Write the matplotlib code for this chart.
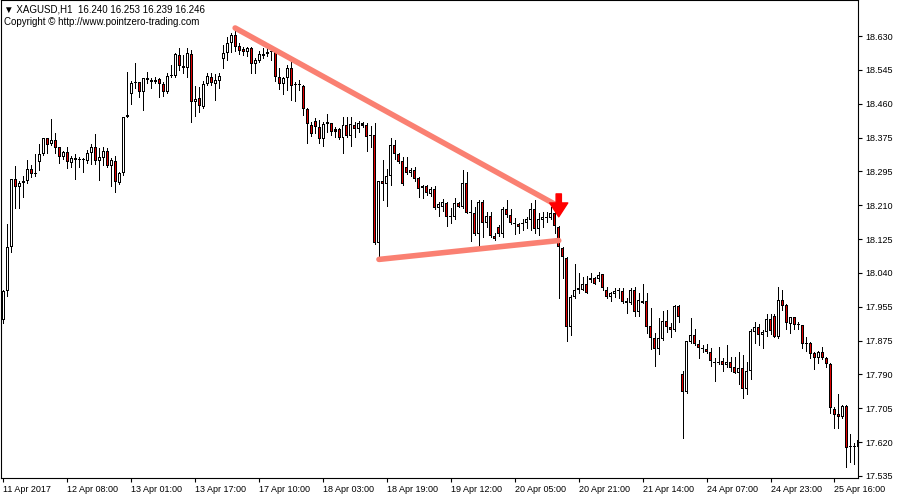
import numpy as np
import matplotlib
matplotlib.use("Agg")
import matplotlib.pyplot as plt

# XAGUSD H1 candles (open, high, low, close)
opens = [17.923, 17.996, 18.104, 18.274, 18.253, 18.264, 18.269, 18.298, 18.287, 18.317,
         18.336, 18.375, 18.361, 18.370, 18.354, 18.328, 18.341, 18.313, 18.326, 18.323,
         18.321, 18.320, 18.338, 18.354, 18.320, 18.326, 18.343, 18.307, 18.320, 18.263,
         18.288, 18.433, 18.486, 18.512, 18.515, 18.490, 18.525, 18.521, 18.515, 18.522,
         18.510, 18.490, 18.530, 18.530, 18.583, 18.556, 18.550, 18.584, 18.465, 18.475,
         18.454, 18.510, 18.529, 18.510, 18.519, 18.572, 18.587, 18.612, 18.633, 18.605,
         18.598, 18.589, 18.599, 18.560, 18.569, 18.579, 18.584, 18.589, 18.590, 18.529,
         18.510, 18.525, 18.550, 18.510, 18.510, 18.506, 18.448, 18.409, 18.419, 18.403,
         18.373, 18.410, 18.413, 18.392, 18.398, 18.375, 18.409, 18.382, 18.409, 18.399,
         18.413, 18.409, 18.381, 18.384, 18.114, 18.269, 18.261, 18.282, 18.359, 18.336,
         18.319, 18.305, 18.290, 18.297, 18.276, 18.251, 18.257, 18.236, 18.249, 18.201,
         18.205, 18.215, 18.179, 18.179, 18.214, 18.205, 18.263, 18.192, 18.189, 18.137,
         18.218, 18.165, 18.183, 18.132, 18.155, 18.137, 18.199, 18.185, 18.162, 18.162,
         18.162, 18.165, 18.172, 18.199, 18.149, 18.172, 18.178, 18.176, 18.189, 18.154,
         18.102, 18.077, 17.906, 17.980, 17.999, 17.999, 18.013, 18.027, 18.027, 18.025,
         18.037, 17.999, 17.980, 17.987, 17.995, 17.995, 17.971, 17.965, 17.999, 17.944,
         17.970, 17.970, 17.908, 17.878, 17.851, 17.875, 17.921, 17.906, 17.898, 17.958,
         17.790, 17.745, 17.869, 17.886, 17.863, 17.854, 17.851, 17.843, 17.819, 17.817,
         17.821, 17.810, 17.818, 17.806, 17.792, 17.803, 17.751, 17.796, 17.894, 17.906,
         17.886, 17.893, 17.925, 17.933, 17.882, 17.972, 17.961, 17.913, 17.930, 17.912,
         17.911, 17.867, 17.867, 17.842, 17.828, 17.844, 17.828, 17.813, 17.701, 17.689,
         17.681, 17.709, 17.606, 17.608, 17.608]
highs = [17.998, 18.162, 18.274, 18.307, 18.270, 18.282, 18.321, 18.309, 18.336, 18.361,
         18.376, 18.377, 18.423, 18.389, 18.354, 18.345, 18.353, 18.331, 18.336, 18.330,
         18.327, 18.346, 18.361, 18.386, 18.351, 18.354, 18.351, 18.326, 18.331, 18.292,
         18.429, 18.540, 18.519, 18.562, 18.516, 18.525, 18.540, 18.525, 18.529, 18.526,
         18.516, 18.537, 18.558, 18.587, 18.599, 18.583, 18.599, 18.595, 18.506, 18.504,
         18.519, 18.537, 18.537, 18.535, 18.537, 18.608, 18.627, 18.638, 18.650, 18.613,
         18.602, 18.603, 18.602, 18.576, 18.593, 18.599, 18.599, 18.599, 18.595, 18.550,
         18.529, 18.558, 18.566, 18.516, 18.521, 18.508, 18.450, 18.417, 18.425, 18.421,
         18.417, 18.435, 18.414, 18.404, 18.400, 18.429, 18.429, 18.429, 18.417, 18.419,
         18.417, 18.414, 18.407, 18.413, 18.269, 18.321, 18.298, 18.375, 18.371, 18.338,
         18.330, 18.330, 18.301, 18.305, 18.278, 18.259, 18.259, 18.255, 18.257, 18.218,
         18.224, 18.218, 18.201, 18.226, 18.218, 18.297, 18.292, 18.222, 18.205, 18.222,
         18.222, 18.193, 18.193, 18.139, 18.160, 18.205, 18.222, 18.199, 18.176, 18.164,
         18.174, 18.180, 18.214, 18.222, 18.189, 18.193, 18.193, 18.205, 18.214, 18.157,
         18.106, 18.079, 17.985, 18.063, 18.039, 18.029, 18.033, 18.041, 18.031, 18.043,
         18.037, 18.006, 17.994, 18.002, 18.002, 18.002, 17.977, 18.002, 18.006, 17.991,
         18.014, 17.990, 17.952, 17.890, 17.927, 17.946, 17.948, 17.916, 17.960, 17.960,
         17.797, 17.871, 17.927, 17.901, 17.873, 17.861, 17.863, 17.853, 17.828, 17.857,
         17.828, 17.861, 17.832, 17.830, 17.843, 17.836, 17.819, 17.900, 17.919, 17.913,
         17.898, 17.937, 17.937, 17.937, 18.005, 17.999, 17.963, 17.931, 17.931, 17.919,
         17.912, 17.882, 17.869, 17.844, 17.847, 17.857, 17.830, 17.815, 17.707, 17.739,
         17.712, 17.712, 17.639, 17.616, 17.635]
lows = [17.916, 17.983, 18.093, 18.202, 18.203, 18.230, 18.265, 18.278, 18.282, 18.297,
        18.334, 18.338, 18.358, 18.338, 18.315, 18.323, 18.301, 18.305, 18.275, 18.305,
        18.292, 18.313, 18.311, 18.311, 18.272, 18.309, 18.305, 18.257, 18.242, 18.262,
        18.284, 18.428, 18.461, 18.500, 18.477, 18.446, 18.512, 18.500, 18.514, 18.477,
        18.481, 18.487, 18.529, 18.529, 18.545, 18.537, 18.529, 18.415, 18.431, 18.442,
        18.452, 18.508, 18.508, 18.471, 18.500, 18.551, 18.570, 18.591, 18.593, 18.584,
        18.582, 18.579, 18.537, 18.537, 18.566, 18.575, 18.580, 18.570, 18.519, 18.497,
        18.486, 18.496, 18.471, 18.468, 18.496, 18.433, 18.364, 18.381, 18.389, 18.364,
        18.357, 18.390, 18.384, 18.379, 18.373, 18.340, 18.379, 18.357, 18.379, 18.392,
        18.404, 18.345, 18.354, 18.112, 18.076, 18.222, 18.207, 18.259, 18.323, 18.313,
        18.259, 18.287, 18.282, 18.269, 18.230, 18.226, 18.234, 18.232, 18.199, 18.182,
        18.195, 18.157, 18.164, 18.174, 18.204, 18.201, 18.189, 18.121, 18.135, 18.102,
        18.129, 18.155, 18.129, 18.122, 18.132, 18.131, 18.180, 18.162, 18.137, 18.140,
        18.147, 18.151, 18.147, 18.139, 18.135, 18.155, 18.167, 18.174, 18.139, 17.977,
        18.027, 17.872, 17.885, 17.977, 17.991, 17.998, 17.990, 18.018, 18.013, 18.021,
        17.999, 17.977, 17.971, 17.981, 17.977, 17.966, 17.940, 17.962, 17.933, 17.933,
        17.965, 17.891, 17.850, 17.809, 17.839, 17.873, 17.894, 17.880, 17.897, 17.919,
        17.630, 17.741, 17.867, 17.861, 17.828, 17.844, 17.840, 17.809, 17.772, 17.814,
        17.797, 17.807, 17.797, 17.791, 17.763, 17.728, 17.738, 17.776, 17.867, 17.861,
        17.853, 17.883, 17.888, 17.880, 17.878, 17.948, 17.900, 17.891, 17.900, 17.900,
        17.853, 17.847, 17.828, 17.801, 17.815, 17.825, 17.807, 17.691, 17.654, 17.654,
        17.679, 17.557, 17.571, 17.565, 17.580]
closes = [17.996, 18.106, 18.274, 18.253, 18.264, 18.269, 18.298, 18.287, 18.289, 18.336,
          18.375, 18.358, 18.371, 18.351, 18.328, 18.341, 18.316, 18.326, 18.321, 18.321,
          18.321, 18.338, 18.354, 18.320, 18.328, 18.343, 18.307, 18.321, 18.267, 18.288,
          18.429, 18.429, 18.514, 18.515, 18.490, 18.525, 18.521, 18.515, 18.520, 18.510,
          18.490, 18.530, 18.532, 18.584, 18.556, 18.550, 18.587, 18.465, 18.472, 18.456,
          18.510, 18.530, 18.512, 18.520, 18.530, 18.587, 18.612, 18.633, 18.603, 18.593,
          18.591, 18.599, 18.560, 18.570, 18.584, 18.584, 18.591, 18.591, 18.527, 18.510,
          18.525, 18.550, 18.506, 18.508, 18.508, 18.448, 18.410, 18.386, 18.403, 18.373,
          18.411, 18.415, 18.392, 18.398, 18.375, 18.409, 18.382, 18.411, 18.399, 18.413,
          18.407, 18.379, 18.384, 18.114, 18.269, 18.261, 18.282, 18.359, 18.336, 18.317,
          18.261, 18.288, 18.297, 18.274, 18.249, 18.257, 18.239, 18.249, 18.201, 18.211,
          18.216, 18.180, 18.180, 18.215, 18.205, 18.263, 18.190, 18.189, 18.137, 18.218,
          18.165, 18.183, 18.132, 18.124, 18.137, 18.199, 18.185, 18.164, 18.165, 18.155,
          18.165, 18.174, 18.199, 18.149, 18.174, 18.180, 18.180, 18.189, 18.157, 18.104,
          18.079, 17.906, 17.981, 17.999, 18.002, 18.014, 17.991, 18.023, 18.014, 18.035,
          18.002, 17.981, 17.990, 17.995, 17.998, 17.969, 17.965, 17.999, 17.944, 17.973,
          17.966, 17.906, 17.878, 17.851, 17.878, 17.921, 17.906, 17.898, 17.958, 17.931,
          17.745, 17.871, 17.886, 17.863, 17.853, 17.850, 17.843, 17.821, 17.815, 17.819,
          17.810, 17.818, 17.803, 17.792, 17.803, 17.751, 17.796, 17.896, 17.906, 17.886,
          17.893, 17.925, 17.897, 17.882, 17.972, 17.959, 17.915, 17.930, 17.911, 17.911,
          17.863, 17.863, 17.839, 17.828, 17.844, 17.828, 17.813, 17.703, 17.687, 17.682,
          17.709, 17.604, 17.609, 17.610, 17.625]

time_labels = ["11 Apr 2017", "12 Apr 08:00", "13 Apr 01:00", "13 Apr 17:00", "17 Apr 10:00",
               "18 Apr 03:00", "18 Apr 19:00", "19 Apr 12:00", "20 Apr 05:00", "20 Apr 21:00",
               "21 Apr 14:00", "24 Apr 07:00", "24 Apr 23:00", "25 Apr 16:00"]
price_labels = ["17.535", "17.620", "17.705", "17.790", "17.875", "17.955", "18.040",
                "18.125", "18.210", "18.295", "18.375", "18.460", "18.545", "18.630"]

# hand drawn objects on the chart: (bar, price)
upper_line_bars = [58, 139]
upper_line_prices = [18.650, 18.206]
lower_line_bars = [94, 139]
lower_line_prices = [18.074, 18.121]
arrow_bar = 139
arrow_top, arrow_tip = 18.237, 18.180

header = "\u25bc XAGUSD,H1  16.240 16.253 16.239 16.246"
copyright_txt = "Copyright \u00a9 http://www.pointzero-trading.com"

o = np.array(opens); h = np.array(highs); l = np.array(lows); c = np.array(closes)
x = np.arange(len(o))
up = c >= o

fig = plt.figure(figsize=(9, 5), dpi=100)
ax = fig.add_axes([1/900, 22/500, 857/900, 478/500])

# wicks
ax.vlines(x, l, h, color='black', linewidth=0.72, antialiased=False, zorder=2)
# body: black outline block (3 px) with 1 px fill in the middle
px = (18.7196 - 17.530) / 478.0
body_lo = np.minimum(o, c)
body_hi = np.maximum(o, c)
ax.bar(x, np.maximum(body_hi - body_lo, px), bottom=body_lo, width=0.75,
       color='black', linewidth=0, antialiased=False, zorder=3)
inner = (body_hi - body_lo) > 2.5 * px
ax.bar(x[inner], (body_hi - body_lo)[inner] - 2 * px, bottom=body_lo[inner] + px, width=0.25,
       color=np.where(up[inner], 'white', '#e00000'), linewidth=0, antialiased=False, zorder=4)

ax.plot(upper_line_bars, upper_line_prices, color='#fa8072', linewidth=4,
        solid_capstyle='round', zorder=5)
ax.plot(lower_line_bars, lower_line_prices, color='#fa8072', linewidth=4,
        solid_capstyle='round', zorder=5)
ax.annotate('', xy=(arrow_bar, arrow_tip), xytext=(arrow_bar, arrow_top),
            arrowprops=dict(arrowstyle='simple,head_length=1.0,head_width=1.3,tail_width=0.38',
                            color='red', mutation_scale=10, shrinkA=0, shrinkB=0), zorder=6)

ax.set_xlim(-0.6, 213.9)
ax.set_ylim(17.530, 18.7196)

fnt = ['Liberation Sans', 'DejaVu Sans']
ax.yaxis.tick_right()
ax.set_yticks(np.linspace(17.535, 18.630, 14))
ax.set_yticklabels(price_labels, fontsize=6.5, family=fnt)
ax.set_xticks(np.arange(0, 16 * len(time_labels), 16))
ax.set_xticklabels(time_labels, fontsize=6.5, family=fnt, ha='left')
ax.tick_params(axis='both', direction='out', length=3, width=0.8, pad=2)
for sp in ax.spines.values():
    sp.set_linewidth(0.8)

fig.text(4/900, 1 - 9/500, header, fontsize=7, family=fnt, va='center')
fig.text(4/900, 1 - 22/500, copyright_txt, fontsize=7, family=fnt, va='center')

fig.savefig("out.png", dpi=100)
